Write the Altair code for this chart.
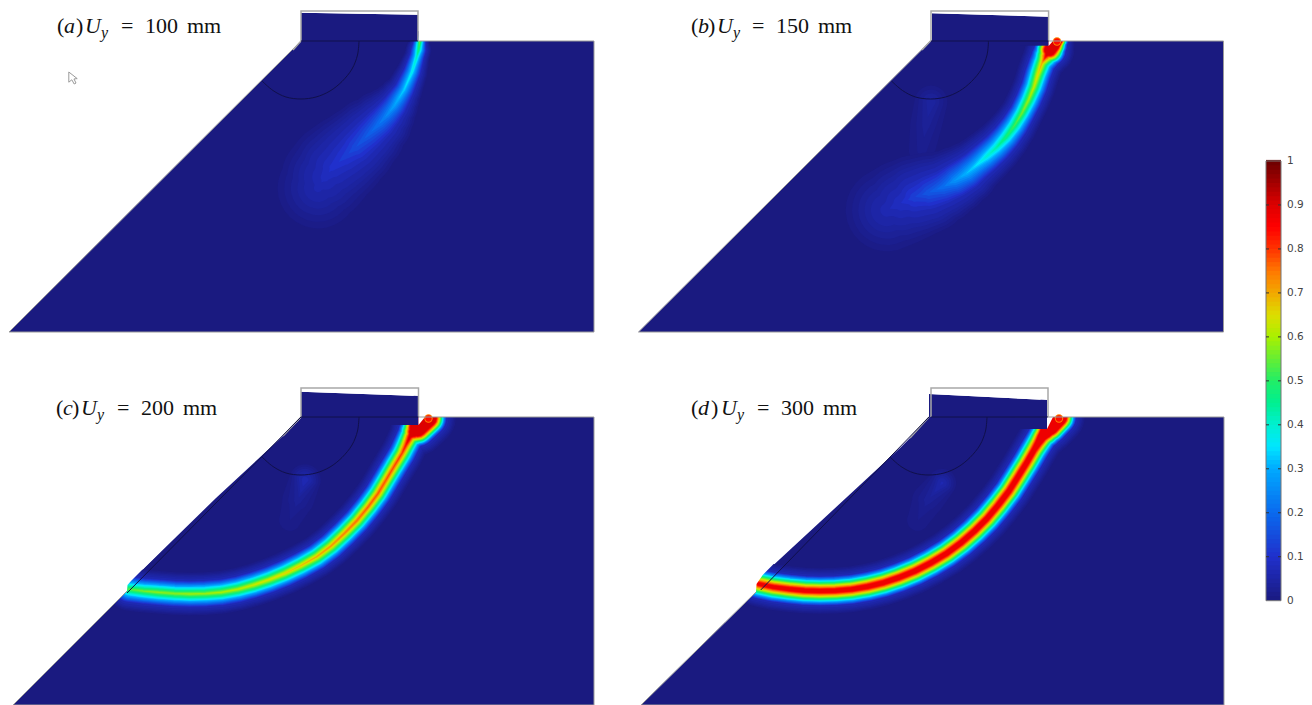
import altair as alt
import pandas as pd

NAVY = "#1a1a80"
EDGE = "#9a9a9a"
# colour map
cmap_values = [0, .1, .2, .3, .35, .4, .45, .5, .55, .6, .65, .7, .75, .8, .85, .9, 1]
cmap_colors = ["#1a1a80", "#2030cc", "#0a6aee", "#00aaff", "#00e6ff", "#00f0d0", "#00f090", "#22ee66",
               "#66ee33", "#aaf000", "#dddd00", "#f2a800", "#ff7700", "#ff3300", "#ff0000", "#dd0000", "#6b0000"]
levels = [.01, .02, .03, .04, .05, .065, .08, .1, .12, .14, .16, .18, .2, .225, .25, .275, .3, .325, .35, .375,
          .4, .425, .45, .475, .5, .525, .55, .575, .6, .625, .65, .675, .7, .725, .75, .775, .8, .825, .85, .875,
          .9, .925, .95, .975]
bar_ticks = [0, .1, .2, .3, .4, .5, .6, .7, .8, .9, 1]
bar_labels = ["0", "0.1", "0.2", "0.3", "0.4", "0.5", "0.6", "0.7", "0.8", "0.9", "1"]

# crack centre lines: x, y, peak damage, half width of the band
a_x = [419.8, 418.5, 417, 414.5, 412, 408, 404, 399, 394, 387, 380, 368, 356, 344.5, 333, 325, 318]
a_y = [41, 50, 56, 64, 72, 81, 90, 98, 106, 115, 123, 135, 147, 157, 167, 177, 188]
a_p = [.58, .5, .44, .41, .39, .37, .35, .33, .3, .26, .23, .19, .16, .13, .11, .09, .07]
a_w = [7, 9, 9, 10, 11, 12, 13, 15, 17, 20, 23, 27, 31, 35, 38, 40, 40]

b_x = [1057, 1053, 1050, 1046, 1042, 1038, 1034, 1028.5, 1022, 1014.5, 1006, 996.5, 986, 976, 967, 955, 943, 929, 915, 901, 887]
b_y = [40, 45, 50, 56, 63, 74, 87, 100, 113, 125.5, 137, 147.5, 157, 165.5, 173, 180.5, 187, 192.5, 197, 203, 210]
b_p = [1.5, 1.5, 1.3, .9, .72, .68, .64, .61, .58, .54, .5, .45, .41, .36, .33, .28, .22, .18, .14, .1, .075]
b_w = [12, 15, 17, 16, 15, 15, 15, 15, 15, 16, 17, 18, 19, 20, 22, 24, 26, 30, 34, 38, 40]

c_x = [128.7, 143, 158.4, 174, 190, 206, 221.8, 238, 253.5, 269, 285, 301, 316.8, 331, 344.5, 357, 368.3, 378, 386, 394, 402, 406, 410, 414, 417.8, 428.5]
c_y = [589.3, 591, 592.3, 593.5, 594, 593.6, 592.3, 589.3, 585, 579.8, 573.3, 565.5, 556.7, 546, 533.3, 520.5, 506.7, 493.5, 480, 466.5, 453.3, 445, 436.7, 432, 428.3, 418.3]
c_p = [.56, .58, .6, .6, .61, .61, .62, .63, .65, .66, .68, .7, .72, .74, .76, .78, .79, .8, .8, .81, .82, .86, .95, 1.2, 1.5, 1.5]
c_w = [15] * 21 + [15, 15, 17, 19, 19]

d_x = [758.7, 773, 788.4, 804, 820, 836, 851.8, 868, 883.5, 899, 915, 931, 946.8, 961, 974.5, 987, 998.3, 1009, 1018, 1026.5, 1034, 1038, 1042, 1046, 1050, 1059]
d_y = [584, 587, 589, 590.5, 591, 590.6, 589.3, 586.5, 582.7, 577.5, 571, 562.8, 553.3, 542.8, 531, 518.5, 505, 491, 476.7, 463, 450, 443.5, 437, 432, 427, 417.5]
d_p = [.95, .96, .97, .98, .98, .98, .98, .99, .99, 1, 1, 1, 1, 1, 1, 1, 1, 1, 1, 1, 1, 1.05, 1.15, 1.3, 1.5, 1.5]
d_w = [16] * 21 + [16, 16, 17, 18, 18]

# faint traces under the quarter circle
fb_x, fb_y, fb_p, fb_w = [931, 926, 922], [102, 125, 150], [.05, .035, .025], [18, 20, 20]
fc_x, fc_y, fc_p, fc_w = [305, 298, 290], [480, 500, 520], [.08, .035, .02], [15, 20, 20]
fd_x, fd_y, fd_p, fd_w = [942, 928, 918], [483, 500, 520], [.07, .035, .02], [14, 20, 20]

# geometry of the four panels (outline of the bar and ground body)
g_a_x = [9, 301, 594]; g_a_y = [332, 41, 41]; g_a_b = 332
g_b_x = [638.5, 930.5, 1223.5]; g_b_y = [332, 41, 41]; g_b_b = 332
g_c_x = [13, 127, 127.5, 131, 216, 283, 300, 301, 594]
g_c_y = [705, 591, 585, 581, 498, 436, 419, 417, 417]; g_c_b = 705
g_d_x = [641, 756, 756.5, 762.7, 900, 914, 929, 1224]
g_d_y = [705, 592, 584, 575, 448, 434, 417, 417]; g_d_b = 705

block_x = [[301, 418], [932, 1048.6], [301, 418.5], [929, 1047]]
block_top = [[12.7, 14.7], [13.3, 16.7], [391.7, 396], [394, 400]]
block_bot = [41, 41, 417.3, 417.3]
notch_x = [[], [1020, 1048.6], [390, 418.5], [1015, 1047]]
notch_top = [0, 41, 417, 417]
notch_bot = [0, 45.7, 425, 429]
frame_l = [301, 931, 301, 931]
frame_r = [418, 1048.6, 418.5, 1048]
frame_t = [11, 11, 388, 388]
frame_b = [41, 41, 417, 417]
right_edge = [594, 1223.5, 594, 1224]
bottom_edge = [332, 332, 705, 705]
left_edge = [9, 638.5, 13, 641]

arc_dx = [58, 56.5, 51, 41, 29, 15, 0, -15, -28, -39]
arc_dy = [0, 14, 28, 40.5, 50, 56, 58, 56, 49.5, 40]
arc_x0 = [301, 930.5, 301, 929]
arc_y0 = [41, 41, 417, 417]

tip_x = [1057, 428.5, 1059]
tip_y = [41.5, 418.5, 418.5]

titles = [
    ("(", "a", ")", "100", 57, 64, 76, 85, 101, 121, 145, 187, 33),
    ("(", "b", ")", "150", 691, 698, 708, 717, 733, 752, 776, 818, 33),
    ("(", "c", ")", "200", 56, 63, 72, 81, 97, 117, 141, 183, 415),
    ("(", "d", ")", "300", 691, 698, 711, 721, 737, 757, 781, 823, 415),
]

XS = alt.Scale(domain=[8, 1304], nice=False, zero=False)
YS = alt.Scale(domain=[705, 8], nice=False, zero=False)
CS = alt.Scale(domain=cmap_values, range=cmap_colors, interpolate="rgb")
X = alt.X("x:Q", scale=XS, axis=None)
Y = alt.Y("y:Q", scale=YS, axis=None)
X2 = alt.X2("x2")
Y2 = alt.Y2("y2")


def half_width(lv, p, w):
    if lv >= p:
        return 0.0
    return w * (1 - lv / p) + 0.5 * w * max(0, .08 - lv) / .08 * min(1, p / .2)


band_rows = []
key = 0
def add_band(xs, ys, ps, ws, cap=1.0):
    """One trail for each contour level; a level stops where the peak falls below it."""
    global key
    n = len(xs)
    for lv in levels:
        if lv > cap:
            continue
        run = None
        for i in range(n):
            if ps[i] > lv:
                if run is None:
                    key += 1
                    run = 0
                    if i > 0:
                        t = (lv - ps[i - 1]) / (ps[i] - ps[i - 1])
                        band_rows.append(dict(x=xs[i - 1] + t * (xs[i] - xs[i - 1]), y=ys[i - 1] + t * (ys[i] - ys[i - 1]),
                                              i=run, key=key, level=lv, w=0.1))
                        run += 1
                band_rows.append(dict(x=xs[i], y=ys[i], i=run, key=key, level=lv, w=round(2 * half_width(lv, ps[i], ws[i]), 2)))
                run += 1
            elif run is not None:
                t = (ps[i - 1] - lv) / (ps[i - 1] - ps[i])
                band_rows.append(dict(x=xs[i - 1] + t * (xs[i] - xs[i - 1]), y=ys[i - 1] + t * (ys[i] - ys[i - 1]),
                                      i=run, key=key, level=lv, w=0.1))
                run = None


add_band(fb_x, fb_y, fb_p, fb_w)
add_band(fc_x, fc_y, fc_p, fc_w)
add_band(fd_x, fd_y, fd_p, fd_w)
add_band(a_x, a_y, a_p, a_w)
add_band(b_x, b_y, b_p, b_w, cap=.92)
add_band(c_x, c_y, c_p, c_w, cap=.92)
add_band(d_x, d_y, d_p, d_w, cap=.88)
bands = pd.DataFrame(band_rows)

polygons_back = []
for gx, gy, gb in [(g_a_x, g_a_y, g_a_b), (g_b_x, g_b_y, g_b_b), (g_c_x, g_c_y, g_c_b), (g_d_x, g_d_y, g_d_b)]:
    polygons_back.append(pd.DataFrame(dict(x=gx, y=gy, y2=[gb] * len(gx))))

polygons_block = []
for k in range(4):
    polygons_block.append(pd.DataFrame(dict(x=block_x[k], y=block_top[k], y2=[block_bot[k]] * 2)))
    if notch_x[k]:
        polygons_block.append(pd.DataFrame(dict(x=notch_x[k], y=[notch_top[k]] * 2, y2=[notch_bot[k]] * 2)))

polygons_white = []
# the gap between the tilted block and its undeformed frame
for k in range(4):
    polygons_white.append(pd.DataFrame(dict(x=block_x[k], y=[frame_t[k] - 3] * 2, y2=block_top[k])))
for x0, yl in [(418.5, 41), (1048.6, 41), (418.5, 417), (1047, 417)]:
    polygons_white.append(pd.DataFrame(dict(x=[x0, x0 + 55], y=[yl - 40] * 2, y2=[yl] * 2)))
for sx, sy, sb in [([418.5, 425], [417, 417], [425, 417]),
                   ([1047, 1053], [417, 417], [429, 417]),
                   ([1048.6, 1053], [41, 41], [46, 41])]:
    polygons_white.append(pd.DataFrame(dict(x=sx, y=sy, y2=sb)))
for cx, cy, top in [([95, 127, 127.5, 131, 160], [623, 591, 585, 581, 552], 540),
                    ([725, 756, 756.5, 762.7, 790], [622.5, 592, 584, 575, 547.5], 530)]:
    polygons_white.append(pd.DataFrame(dict(x=cx, y=[top] * len(cx), y2=cy)))

line_rows = []
def add_line(key, xs, ys, kind):
    for i, (x, y) in enumerate(zip(xs, ys)):
        line_rows.append(dict(x=x, y=y, i=i, key=key, kind=kind))

for k in range(4):
    add_line(f"f{k}", [frame_l[k], frame_l[k], frame_r[k], frame_r[k]], [frame_b[k], frame_t[k], frame_t[k], frame_b[k]], "frame")
    add_line(f"e{k}", [frame_r[k], right_edge[k], right_edge[k], left_edge[k]],
             [frame_b[k], frame_b[k], bottom_edge[k], bottom_edge[k]], "edge")
add_line("s0", [9, 301], [332, 41], "edge")
add_line("s1", [638.5, 930.5], [332, 41], "edge")
add_line("s2", [13, 127], [705, 591], "edge")
add_line("s3", [641, 756], [705, 592], "edge")
add_line("s4", [301, 283], [417, 436], "frame")
add_line("s5", [929, 910], [417, 438], "frame")
add_line("s6", [301, 293], [41, 50], "frame")
add_line("s7", [930.5, 922], [41, 50], "frame")
lines = pd.DataFrame(line_rows)

dark_rows = []
def add_dark(key, xs, ys):
    for i, (x, y) in enumerate(zip(xs, ys)):
        dark_rows.append(dict(x=x, y=y, i=i, key=key))

for k in range(4):
    add_dark(f"top{k}", [frame_l[k], frame_r[k]], [arc_y0[k], arc_y0[k]])
add_dark("k2", [127, 301], [593, 417])
add_dark("k3", [760.7, 929], [590, 417])
darks = pd.DataFrame(dark_rows)
arcs = pd.DataFrame([dict(x=arc_x0[k] + dx, y=arc_y0[k] + dy, i=i, key=k)
                     for k in range(4) for i, (dx, dy) in enumerate(zip(arc_dx, arc_dy))])

tips = pd.DataFrame([dict(x=x, y=y, level=lv, s=s) for x, y in zip(tip_x, tip_y)
                     for lv, s in [(.74, 70), (.84, 40)]])

bar_top, bar_bot = 161.0, 600.7
bar_steps = [i / 100 for i in range(100)]
bar = pd.DataFrame(dict(level=[v + .005 for v in bar_steps],
                        y=[bar_bot - (bar_bot - bar_top) * v for v in bar_steps],
                        y2=[bar_bot - (bar_bot - bar_top) * (v + .0125) for v in bar_steps],
                        x=1266, x2=1281))
bar_frame = pd.DataFrame(dict(x=[1266], x2=[1281], y=[bar_top], y2=[bar_bot]))
ticks = pd.DataFrame(dict(y=[bar_bot - (bar_bot - bar_top) * v for v in bar_ticks], label=bar_labels, x=1287))
tick_marks = pd.concat([ticks.iloc[1:-1].assign(x=x0, x2=x1) for x0, x1 in [(1266, 1269), (1278, 1281)]])

rom, ita, sub = [], [], []
for o, l, c, dig, xo, xl, xc, xu, xy_, xe, xd, xm, base in titles:
    rom += [dict(x=xo, y=base, t=o), dict(x=xc, y=base, t=c), dict(x=xe, y=base, t="="),
            dict(x=xd, y=base, t=dig), dict(x=xm, y=base, t="mm")]
    ita += [dict(x=xl, y=base, t=l), dict(x=xu, y=base, t="U")]
    sub += [dict(x=xy_, y=base + 5, t="y")]
rom, ita, sub = pd.DataFrame(rom), pd.DataFrame(ita), pd.DataFrame(sub)
SERIF = "Liberation Serif"


def fills(frames, colour):
    return [alt.Chart(f).mark_area(color=colour, opacity=1).encode(X, Y, Y2) for f in frames]


layers = fills(polygons_back, NAVY) + [
    alt.Chart(bands).mark_trail().encode(X, Y, size=alt.Size("w:Q", scale=None, legend=None),
                                         color=alt.Color("level:Q", scale=CS, legend=None), detail="key:N", order="i:Q"),
] + fills(polygons_block, NAVY) + fills(polygons_white, "white") + [
    alt.Chart(tips).mark_circle(opacity=1).encode(X, Y, size=alt.Size("s:Q", scale=None, legend=None),
                                                  color=alt.Color("level:Q", scale=CS, legend=None)),
    alt.Chart(lines[lines.kind == "edge"]).mark_line(color=EDGE, strokeWidth=1).encode(X, Y, detail="key:N", order="i:Q"),
    alt.Chart(lines[lines.kind == "frame"]).mark_line(color="#a8a8a8", strokeWidth=1.5).encode(X, Y, detail="key:N", order="i:Q"),
    alt.Chart(darks).mark_line(color="#10104a", strokeWidth=1).encode(X, Y, detail="key:N", order="i:Q"),
    alt.Chart(arcs).mark_line(color="#10104a", strokeWidth=1, interpolate="cardinal").encode(X, Y, detail="key:N", order="i:Q"),
    alt.Chart(bar).mark_rect().encode(X, X2, Y, Y2, color=alt.Color("level:Q", scale=CS, legend=None)),
    alt.Chart(bar_frame).mark_rect(fill=None, stroke="#777777", strokeWidth=1).encode(X, X2, Y, Y2),
    alt.Chart(tick_marks).mark_rule(color="#333333", strokeWidth=1).encode(X, X2, Y),
    alt.Chart(ticks).mark_text(align="left", baseline="middle", font="DejaVu Sans", fontSize=10.5, color="#444444").encode(X, Y, text="label:N"),
    alt.Chart(rom).mark_text(align="left", baseline="alphabetic", font=SERIF, fontSize=22, color="#111111").encode(X, Y, text="t:N"),
    alt.Chart(ita).mark_text(align="left", baseline="alphabetic", font=SERIF, fontStyle="italic", fontSize=22, color="#111111").encode(X, Y, text="t:N"),
    alt.Chart(sub).mark_text(align="left", baseline="alphabetic", font=SERIF, fontStyle="italic", fontSize=16, color="#111111").encode(X, Y, text="t:N"),
    alt.Chart(pd.DataFrame(dict(x=[73], y=[78]))).mark_point(
        shape="M-0.35,-0.5 L-0.35,0.35 L-0.1,0.15 L0.1,0.5 L0.25,0.42 L0.08,0.08 L0.35,0.05 Z",
        size=576, filled=False, stroke="#9a9a9a", strokeWidth=1, opacity=1).encode(X, Y),
]

chart = alt.layer(*layers).properties(width=1296, height=697, padding=0,
                                      autosize=alt.AutoSizeParams(type="none")).configure_view(stroke=None)
chart.save("out.html", embed_options={"renderer": "svg", "actions": False})
